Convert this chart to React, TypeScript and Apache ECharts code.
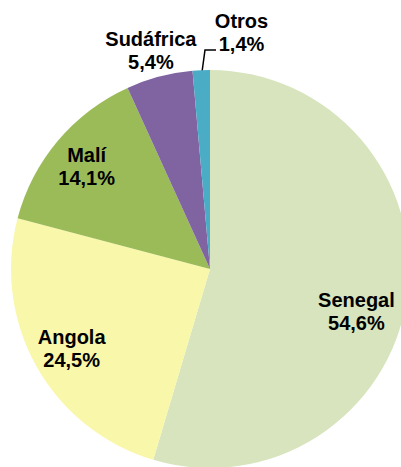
import React, { useEffect, useRef } from "react";
import * as echarts from "echarts";

const categories = ["Senegal", "Angola", "Malí", "Sudáfrica", "Otros"];
const values = [54.6, 24.5, 14.1, 5.4, 1.4];
const colors = ["#D7E4BD", "#F9F7AA", "#9BBB59", "#8064A2", "#4BACC6"];
const labelOffsets: [number, number][] = [
  [45, 28],
  [-49, 29],
  [-45, -36],
  [-33, -119],
  [36, -134],
];

export default function App() {
  const ref = useRef<HTMLDivElement>(null);
  useEffect(() => {
    if (!ref.current) return;
    const chart = echarts.init(ref.current, undefined, { renderer: "svg" });
    chart.setOption({
      animation: false,
      backgroundColor: "#FFFFFF",
      series: [
        {
          type: "pie",
          center: [210, 269],
          radius: [0, 199],
          startAngle: 90,
          clockwise: true,
          silent: true,
          avoidLabelOverlap: false,
          itemStyle: { borderWidth: 0 },
          label: {
            show: true,
            position: "inside",
            formatter: (p: any) =>
              p.name + "\n" + p.value.toFixed(1).replace(".", ",") + "%",
            fontFamily: "Liberation Sans, Arial, sans-serif",
            fontWeight: "bold",
            fontSize: 20,
            lineHeight: 23,
            color: "#000000",
            align: "center",
          },
          labelLine: { show: false },
          data: categories.map((name, i) => ({
            name,
            value: values[i],
            itemStyle: { color: colors[i] },
            label: { offset: labelOffsets[i] },
          })),
        },
      ],
      graphic: [
        {
          type: "polyline",
          shape: {
            points: [
              [202, 72],
              [205, 50],
              [216, 50],
            ],
          },
          style: { stroke: "#000000", lineWidth: 1.5, fill: "none" },
        },
      ],
    });
    return () => chart.dispose();
  }, []);
  return (
    <div
      ref={ref}
      style={{ position: "fixed", left: 0, top: 0, width: 401, height: 467 }}
    />
  );
}
